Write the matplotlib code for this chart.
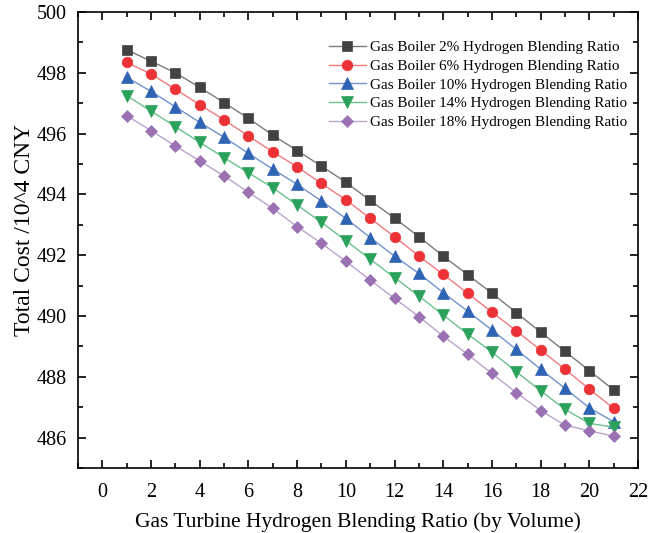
import matplotlib
matplotlib.use("Agg")
import matplotlib.pyplot as plt
from matplotlib.ticker import MultipleLocator

plt.rcParams['font.family'] = ['Liberation Serif', 'DejaVu Serif']

# Gas turbine hydrogen blending ratio (%)
ratio = list(range(1, 22))

# Total cost (10^4 CNY) for each gas boiler hydrogen blending ratio
cost_2 = [498.76, 498.38, 498.00, 497.52, 497.02, 496.50, 495.95, 495.44, 494.93, 494.40,
          493.80, 493.22, 492.61, 491.97, 491.36, 490.75, 490.11, 489.47, 488.84, 488.20, 487.57]
cost_6 = [498.34, 497.96, 497.46, 496.95, 496.45, 495.92, 495.40, 494.91, 494.36, 493.82,
          493.21, 492.61, 491.97, 491.37, 490.75, 490.13, 489.51, 488.88, 488.25, 487.60, 486.96]
cost_10 = [497.85, 497.39, 496.88, 496.37, 495.88, 495.35, 494.83, 494.33, 493.78, 493.21,
           492.58, 491.97, 491.40, 490.77, 490.16, 489.54, 488.90, 488.25, 487.62, 486.98, 486.52]
cost_14 = [497.25, 496.74, 496.23, 495.71, 495.21, 494.71, 494.22, 493.65, 493.08, 492.48,
           491.87, 491.26, 490.66, 490.03, 489.41, 488.81, 488.17, 487.54, 486.93, 486.47, 486.34]
cost_18 = [496.59, 496.10, 495.59, 495.10, 494.61, 494.07, 493.54, 492.94, 492.39, 491.80,
           491.18, 490.58, 489.98, 489.34, 488.74, 488.11, 487.48, 486.89, 486.41, 486.22, 486.05]

labels = ["Gas Boiler 2% Hydrogen Blending Ratio",
          "Gas Boiler 6% Hydrogen Blending Ratio",
          "Gas Boiler 10% Hydrogen Blending Ratio",
          "Gas Boiler 14% Hydrogen Blending Ratio",
          "Gas Boiler 18% Hydrogen Blending Ratio"]

series = [cost_2, cost_6, cost_10, cost_14, cost_18]
marker_colors = ["#424242", "#ec3237", "#2f63b4", "#2ba25c", "#9a72b4"]
line_colors = ["#7a7a7a", "#f07a7c", "#6f93cf", "#6cc18e", "#bba3cc"]
markers = ["s", "o", "^", "v", "D"]
sizes = [7.0, 7.6, 8.0, 8.0, 6.2]

fig = plt.figure(figsize=(6.48, 5.33), dpi=100)
ax = fig.add_axes([78 / 648, 1 - 468 / 533, 560 / 648, 456 / 533])

for y, lab, mc, lc, mk, ms in zip(series, labels, marker_colors, line_colors, markers, sizes):
    ax.plot(ratio, y, color=lc, lw=1.0, marker=mk, markersize=ms,
            markerfacecolor=mc, markeredgecolor=mc, markeredgewidth=0.5, label=lab)

ax.set_xlim(-1, 22)
ax.set_ylim(485, 500)
ax.xaxis.set_major_locator(MultipleLocator(2))
ax.xaxis.set_minor_locator(MultipleLocator(1))
ax.yaxis.set_major_locator(MultipleLocator(2))
ax.yaxis.set_minor_locator(MultipleLocator(1))
ax.tick_params(which='both', direction='in', top=True, right=True, width=1.2)
ax.tick_params(which='major', length=6, labelsize=14.5)
ax.tick_params(axis='x', which='major', pad=11)
ax.tick_params(axis='y', which='major', pad=8)
ax.tick_params(which='minor', length=3.5)
for s in ax.spines.values():
    s.set_linewidth(1.2)

ax.set_xlabel("Gas Turbine Hydrogen Blending Ratio (by Volume)", fontsize=15.5, labelpad=7)
ax.set_ylabel("Total Cost /10^4 CNY", fontsize=17)
ax.yaxis.set_label_coords(-0.076, 0.522)

ax.legend(loc='upper right', bbox_to_anchor=(1.0, 0.96), frameon=False, fontsize=10.9,
          handlelength=2.4, handletextpad=0.3, labelspacing=0.33, borderaxespad=0.3)

fig.savefig("out.png", dpi=100)
